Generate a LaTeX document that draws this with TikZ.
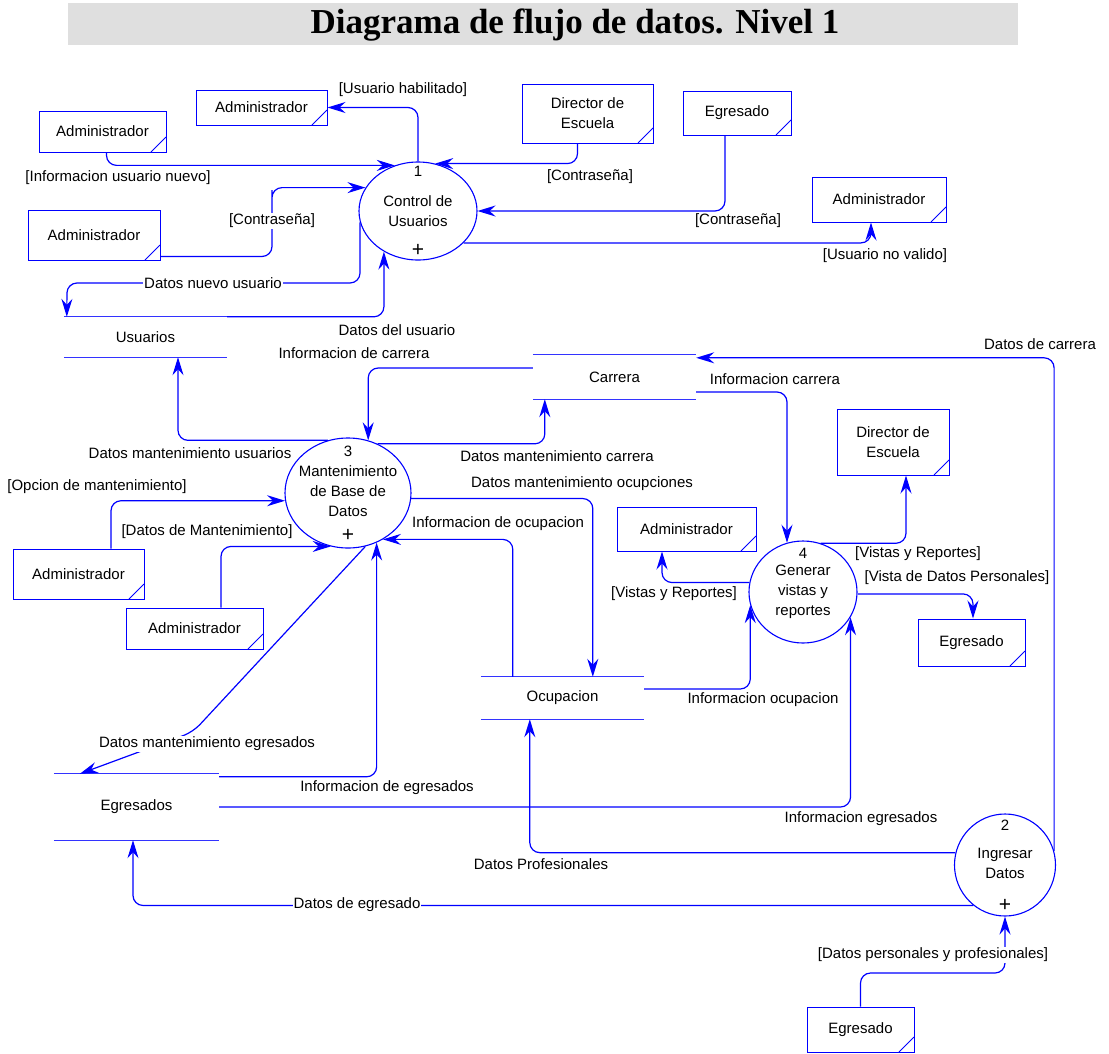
\documentclass[tikz,border=0pt]{standalone}
\usepackage{fontspec}
\setmainfont{Liberation Sans}
\newfontfamily\titlefont{Liberation Serif}
\usetikzlibrary{positioning, shapes.geometric, arrows.meta}

\begin{document}
\begin{tikzpicture}[x=1pt, y=-1pt,
    font=\fontsize{15pt}{20pt}\selectfont,
    ent/.style={draw=blue, line width=1pt, inner sep=0pt, align=center,
      path picture={\draw[blue, line width=0.9pt] ([xshift=-15pt]path picture bounding box.south east) -- ([yshift=15pt]path picture bounding box.south east);}}, % entidad externa
    proc/.style={draw=blue, line width=1.1pt, ellipse, inner sep=0pt},
    store/.style={inner sep=0pt},
    storeline/.style={blue!80, line width=1.2pt},
    flow/.style={blue, line width=1.2pt, rounded corners=10pt, -{Stealth[length=18pt, width=11pt, inset=6pt]}},
    plus/.style={font=\fontsize{21pt}{21pt}\selectfont, inner sep=0pt},
    lbl/.style={inner sep=1pt},
    lblw/.style={fill=white, inner sep=1pt}
    ]
\useasboundingbox (0,0) rectangle (1109,1053);

\fill[gray!25] (68,3) rectangle (1018,45);
\node[font=\titlefont\bfseries\fontsize{35pt}{40pt}\selectfont] (title) at (575,25) {Diagrama de flujo de datos. Nivel 1};

% entidades
\node[ent, minimum width=127pt, minimum height=41pt] (adm1) at (102.5,131.5) {Administrador};
\node[ent, minimum width=131pt, minimum height=35pt] (adm2) at (261.5,107.5) {Administrador};
\node[ent, minimum width=132pt, minimum height=50pt] (adm3) at (94,235) {Administrador};
\node[ent, minimum width=131pt, minimum height=59pt] (dir1) at (587.5,113.5) {Director de\\Escuela};
\node[ent, minimum width=108pt, minimum height=44pt] (egr1) at (737,113) {Egresado};
\node[ent, minimum width=134pt, minimum height=45pt] (adm4) at (879,199.5) {Administrador};
\node[ent, minimum width=112pt, minimum height=66pt] (dir2) at (893,442) {Director de\\Escuela};
\node[ent, minimum width=139pt, minimum height=44pt] (adm5) at (686.5,529) {Administrador};
\node[ent, minimum width=107pt, minimum height=47pt] (egr2) at (971.5,642.5) {Egresado};
\node[ent, minimum width=131pt, minimum height=50pt] (adm6) at (78.5,574) {Administrador};
\node[ent, minimum width=137pt, minimum height=41pt] (adm7) at (194.5,628.5) {Administrador};
\node[ent, minimum width=107pt, minimum height=45pt] (egr3) at (860.5,1029.5) {Egresado};

% almacenes
\node[store, minimum width=163pt, minimum height=40pt] (usr) at (145.5,337) {Usuarios};
\node[store, minimum width=163pt, minimum height=44pt] (car) at (614.5,377) {Carrera};
\node[store, minimum width=163pt, minimum height=42pt] (ocu) at (562.5,698) {Ocupacion};
\node[store, minimum width=165pt, minimum height=66pt] (egr) at (136.5,807) {Egresados};
\draw[storeline] (usr.north west) -- (usr.north east) (usr.south west) -- (usr.south east);
\draw[storeline] (car.north west) -- (car.north east) (car.south west) -- (car.south east);
\draw[storeline] (ocu.north west) -- (ocu.north east) (ocu.south west) -- (ocu.south east);
\draw[storeline] (egr.north west) -- (egr.north east) (egr.south west) -- (egr.south east);

% procesos
\node[proc, minimum width=118pt, minimum height=98pt] (p1) at (418,211) {};
\node[align=center] at (p1) {Control de\\Usuarios};
\node at ([yshift=-10pt]p1.north) {1};
\node[plus] at ([yshift=10pt]p1.south) {+};

\node[proc, minimum width=101pt, minimum height=102pt] (p2) at (1005,865) {};
\node[align=center] at ([yshift=2pt]p2) {Ingresar\\Datos};
\node at ([yshift=-12pt]p2.north) {2};
\node[plus] at ([yshift=11pt]p2.south) {+};

\node[proc, minimum width=126pt, minimum height=110pt] (p3) at (348,493) {};
\node[align=center] at ([yshift=2pt]p3) {Mantenimiento\\de Base de\\Datos};
\node at ([yshift=-14pt]p3.north) {3};
\node[plus] at ([yshift=13pt]p3.south) {+};

\node[proc, minimum width=108pt, minimum height=102pt] (p4) at (803,592) {};
\node[align=center] at (p4) {Generar\\vistas y\\reportes};
\node at ([yshift=-13pt]p4.north) {4};

% flujos del proceso 1
\draw[flow] ([xshift=4pt]adm1.south) |- (p1.117.5);
\draw[flow] ([yshift=4pt]adm3.south east) -| (272,200) |- (p1.156.2);
\draw[flow] (p1.north) |- (adm2.east);
\draw[flow] ([xshift=-10pt]dir1.south) |- (p1.70.4);
\draw[flow] ([xshift=-12pt]egr1.south) |- (p1.east);
\draw[flow] (p1.-35.6) -| ([xshift=-8pt]adm4.south);
\draw[flow] (p1.191.8) |- (67,283) -- ([xshift=3pt]usr.north west);
\draw[flow] (usr.north east) -| (p1.230.9);

% flujos del proceso 3
\draw[flow] (p3.111.5) -| ([xshift=32.5pt]usr.south);
\draw[flow] ([yshift=9pt]car.west) -| (p3.69);
\draw[flow] (p3.59.7) -| ([xshift=12pt]car.south west);
\draw[flow] (p3.-5.5) -| ([xshift=112pt]ocu.north west);
\draw[flow] ([xshift=32pt]ocu.north west) |- (p3.-53.1);
\draw[flow] ([xshift=32.5pt]adm6.north) |- (p3.187.3);
\draw[flow] ([xshift=26.5pt]adm7.north) |- (p3.252.4);
\draw[flow] (p3.-72.2) -- (193,732) -- ([xshift=26pt]egr.north west);
\draw[flow] ([yshift=-3pt]egr.north east) -| (p3.-60.4);

% flujos del proceso 4
\draw[flow] ([yshift=-15pt]car.east) -| (p4.108.2);
\draw[flow] (p4.70.6) -| ([xshift=13pt]dir2.south);
\draw[flow] (p4.170.4) -| ([xshift=-24.5pt]adm5.south);
\draw[flow] (p4.-2.1) -| ([xshift=1.5pt]egr2.north);
\draw[flow] ([yshift=9pt]ocu.east) -| (p4.194.9);
\draw[flow] (egr.east) -| (p4.-28.1);

% flujos del proceso 2
\draw[flow] (p2.16.6) |- ([yshift=-3pt]car.north east);
\draw[flow] (p2.166.1) -| ([xshift=49pt]ocu.south west);
\draw[flow] (p2.232.2) -| ([xshift=-3.5pt]egr.south);
\draw[flow] (egr3.north) |- (1005,973) -- (p2.south);

% etiquetas
\node[lbl] (l1) at (403,90) {[Usuario habilitado]};
\node[lbl] (l2) at (118,178) {[Informacion usuario nuevo]};
\node[lblw] (l3) at (272,221) {[Contraseña]};
\node[lblw] (l4) at (213,283) {Datos nuevo usuario};
\node[lbl] (l5) at (397,330) {Datos del usuario};
\node[lbl] (l6) at (590,177) {[Contraseña]};
\node[lbl] (l7) at (738,221) {[Contraseña]};
\node[lbl] (l8) at (885,256) {[Usuario no valido]};
\node[lbl] (l9) at (354,353) {Informacion de carrera};
\node[lbl] (l10) at (1040,344) {Datos de carrera};
\node[lbl] (l11) at (775,379) {Informacion carrera};
\node[lbl] (l12) at (190,453) {Datos mantenimiento usuarios};
\node[lbl] (l13) at (557,456) {Datos mantenimiento carrera};
\node[lbl] (l14) at (582,484) {Datos mantenimiento ocupciones};
\node[lbl] (l15) at (97,487) {[Opcion de mantenimiento]};
\node[lbl] (l16) at (207,532) {[Datos de Mantenimiento]};
\node[lbl] (l17) at (498,524) {Informacion de ocupacion};
\node[lbl] (l18) at (918,554) {[Vistas y Reportes]};
\node[lbl] (l19) at (957,578) {[Vista de Datos Personales]};
\node[lbl] (l20) at (674,594) {[Vistas y Reportes]};
\node[lbl] (l21) at (763,700) {Informacion ocupacion};
\node[lblw] (l22) at (207,744) {Datos mantenimiento egresados};
\node[lbl] (l23) at (387,788) {Informacion de egresados};
\node[lbl] (l24) at (861,819) {Informacion egresados};
\node[lbl] (l25) at (541,864) {Datos Profesionales};
\node[lblw] (l26) at (357,905) {Datos de egresado};
\node[lblw] (l27) at (933,955) {[Datos personales y profesionales]};
\end{tikzpicture}
\end{document}
